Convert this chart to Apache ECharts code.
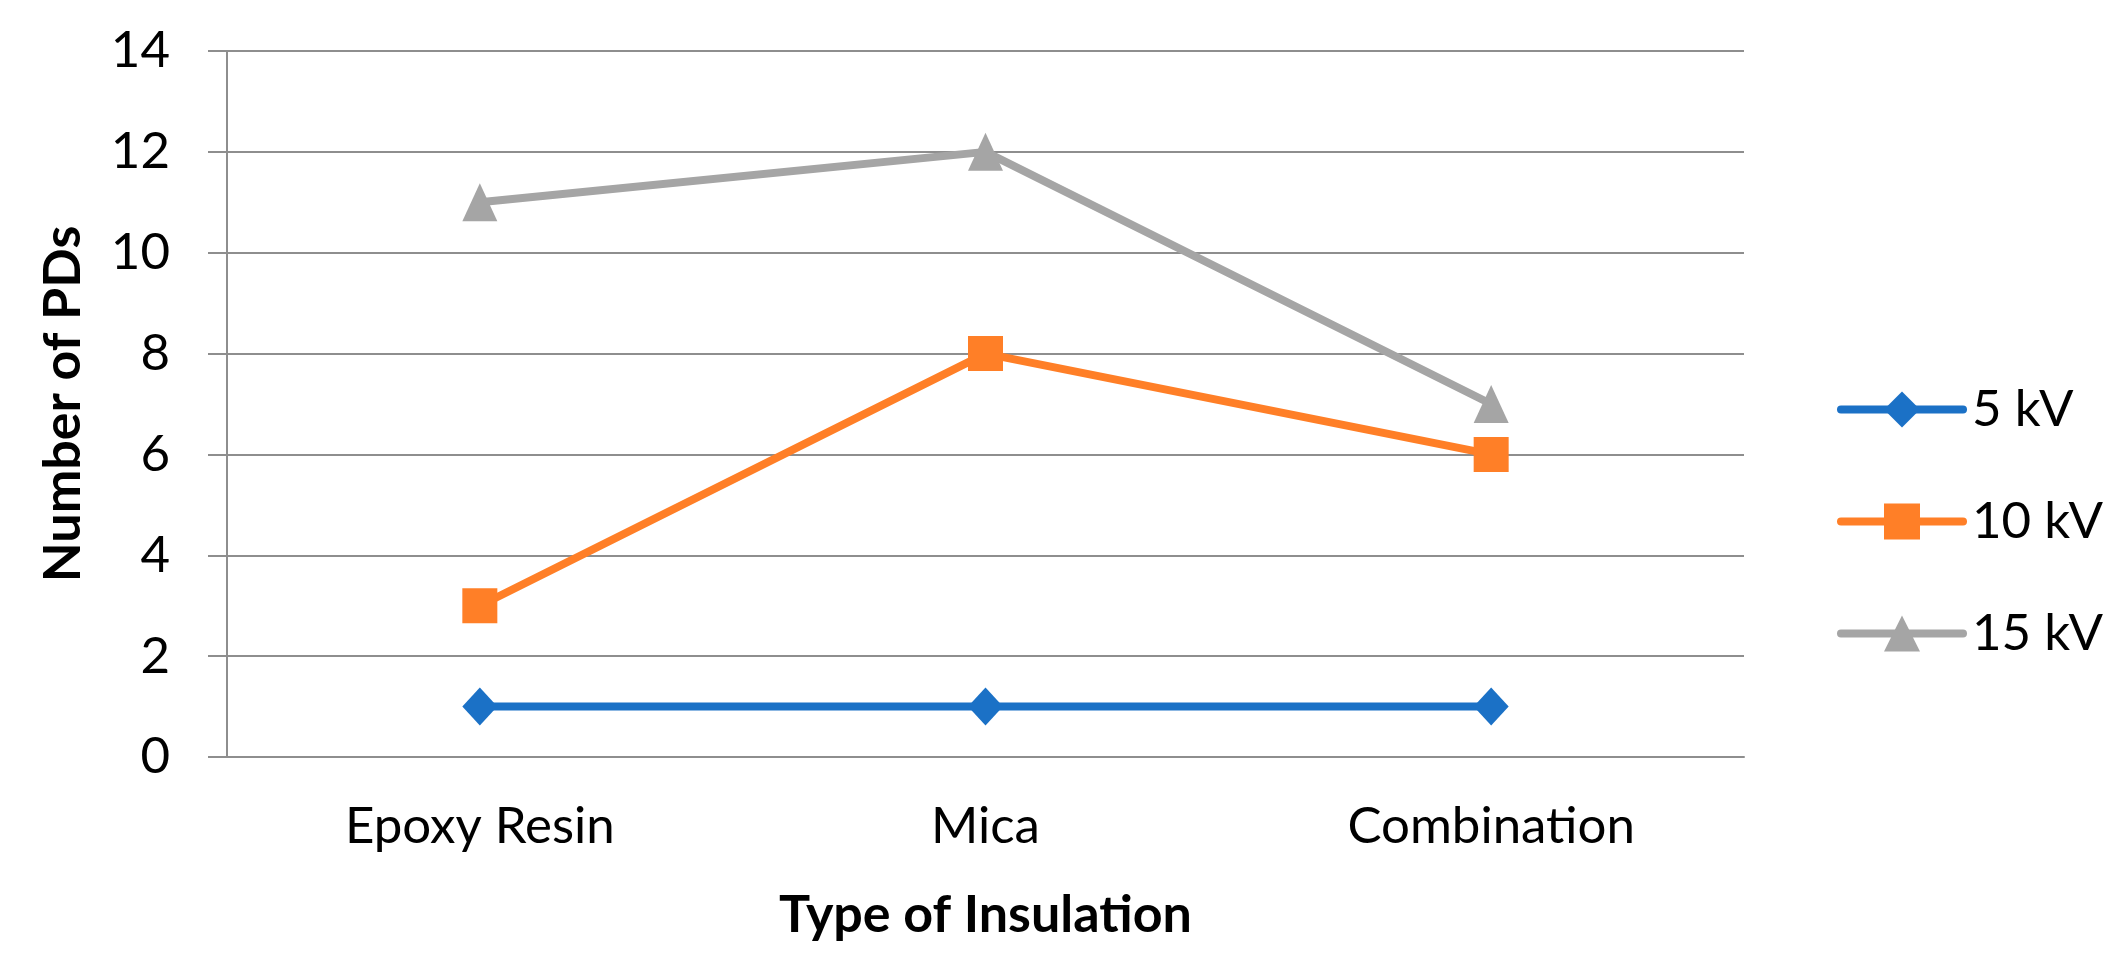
<!DOCTYPE html>
<html>
<head>
<meta charset="utf-8">
<script src="https://cdn.jsdelivr.net/npm/echarts@6/dist/echarts.min.js"></script>
<style>
html,body{margin:0;padding:0;background:#fff;}
#chart{width:2110px;height:975px;}
</style>
</head>
<body>
<div id="chart"></div>
<script>
const categories = ['Epoxy Resin', 'Mica', 'Combination'];
const seriesNames = ['5 kV', '10 kV', '15 kV'];
const values5kV = [1, 1, 1];
const values10kV = [3, 8, 6];
const values15kV = [11, 12, 7];
const yTicks = [0, 2, 4, 6, 8, 10, 12, 14];

const FONT = 'Lato';
const chart = echarts.init(document.getElementById('chart'), null, {renderer: 'canvas'});
const gridColor = '#8e8e8e';
const LW = 8;

function lineSeries(name, data, color, symbol, size) {
  return {
    name: name,
    type: 'line',
    data: data,
    symbol: symbol,
    symbolSize: size,
    showSymbol: true,
    lineStyle: {color: color, width: LW, cap: 'round'},
    itemStyle: {color: color},
    emphasis: {disabled: true},
    animation: false,
    z: 3
  };
}

chart.setOption({
  animation: false,
  backgroundColor: '#ffffff',
  grid: {left: 227, right: 366, top: 51, bottom: 218, containLabel: false},
  legend: {
    orient: 'vertical',
    left: 1832,
    top: 379,
    itemWidth: 122,
    itemHeight: 45,
    itemGap: 61,
    data: seriesNames,
    lineStyle: {width: LW, cap: 'round'},
    textStyle: {fontFamily: FONT, fontSize: 51, color: '#000', lineHeight: 45, padding: [0, 0, 0, 4]}
  },
  xAxis: {
    type: 'category',
    data: categories,
    boundaryGap: true,
    name: 'Type of Insulation',
    nameLocation: 'middle',
    nameGap: 132,
    nameTextStyle: {fontFamily: FONT, fontSize: 52, fontWeight: 'bold', color: '#000'},
    axisLine: {show: true, lineStyle: {color: gridColor, width: 2}},
    axisTick: {show: false},
    axisLabel: {fontFamily: FONT, fontSize: 51, color: '#000', margin: 44},
    splitLine: {show: false}
  },
  yAxis: {
    type: 'value',
    min: yTicks[0],
    max: yTicks[yTicks.length - 1],
    interval: 2,
    name: 'Number of PDs',
    nameLocation: 'middle',
    nameGap: 138,
    nameTextStyle: {fontFamily: FONT, fontSize: 52, fontWeight: 'bold', color: '#000'},
    axisLine: {show: true, lineStyle: {color: gridColor, width: 2}},
    axisTick: {show: true, length: 19, lineStyle: {color: gridColor, width: 2}},
    axisLabel: {fontFamily: FONT, fontSize: 51, color: '#000', margin: 57},
    splitLine: {show: true, lineStyle: {color: gridColor, width: 2}}
  },
  series: [
    lineSeries(seriesNames[0], values5kV, '#1b71c6', 'diamond', [35, 38]),
    lineSeries(seriesNames[1], values10kV, '#ff7f27', 'rect', 35),
    lineSeries(seriesNames[2], values15kV, '#a5a5a5', 'triangle', [35, 38])
  ]
});
</script>
</body>
</html>
